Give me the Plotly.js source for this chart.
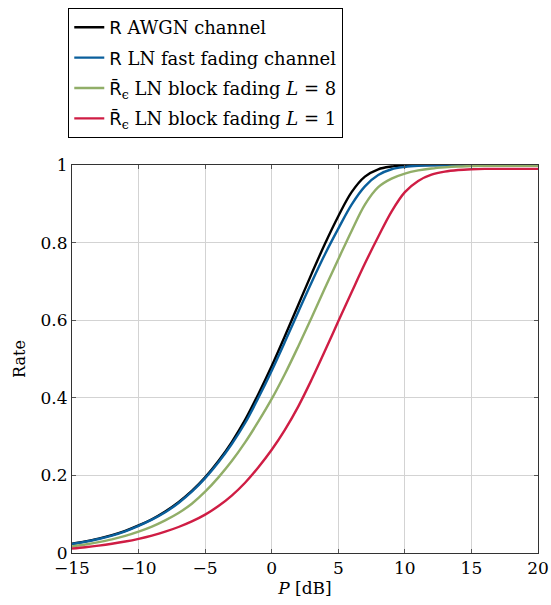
<!DOCTYPE html>
<html>
<head>
<meta charset="utf-8">
<script src="https://cdn.plot.ly/plotly-3.0.1.min.js"></script>
<style>
html,body{margin:0;padding:0;background:#fff;}
#chart{width:551px;height:605px;}
</style>
</head>
<body>
<div id="chart"></div>
<script>
// Power in dB
const powerDb = [-15,-14,-13,-12,-11,-10,-9,-8,-7,-6,-5,-4,-3,-2,-1,0,1,2,3,4,5,6,7,8,9,10,11,12,13,14,15,16,17,18,19,20];

// R, AWGN channel
const rateAwgn = [0.024,0.030,0.037,0.046,0.057,0.071,0.087,0.107,0.131,0.160,0.195,0.237,0.286,0.343,0.410,0.482,0.560,0.640,0.720,0.797,0.868,0.930,0.970,0.989,0.996,0.999,1.0,1.0,1.0,1.0,1.0,1.0,1.0,1.0,1.0,1.0];

// R, LN fast fading channel
const rateFast = [0.023,0.029,0.036,0.045,0.056,0.070,0.086,0.105,0.129,0.158,0.193,0.234,0.281,0.335,0.400,0.470,0.545,0.622,0.698,0.770,0.836,0.898,0.945,0.974,0.989,0.995,0.998,0.9995,1.0,1.0,1.0,1.0,1.0,1.0,1.0,1.0];

// R̄_ε, LN block fading L = 8
const rateBlock8 = [0.017,0.022,0.028,0.035,0.044,0.055,0.068,0.084,0.103,0.127,0.158,0.195,0.237,0.285,0.339,0.397,0.462,0.533,0.607,0.683,0.757,0.830,0.898,0.943,0.965,0.978,0.986,0.991,0.994,0.996,0.997,0.998,0.998,0.998,0.998,0.998];

// R̄_ε, LN block fading L = 1
const rateBlock1 = [0.0114,0.0148,0.0189,0.0238,0.0296,0.0366,0.0450,0.0550,0.0670,0.0815,0.099,0.121,0.148,0.181,0.221,0.266,0.318,0.378,0.447,0.521,0.597,0.672,0.746,0.815,0.880,0.930,0.959,0.975,0.983,0.987,0.989,0.990,0.990,0.990,0.990,0.990];

const SERIF = "DejaVu Serif";
const SANS = "DejaVu Sans";

const seriesNames = [
  '<span style="font-family:' + SANS + '">R</span> AWGN channel',
  '<span style="font-family:' + SANS + '">R</span> LN fast fading channel',
  '<span style="font-family:' + SANS + '">R̄</span><sub>ϵ</sub> LN block fading <i>L</i> = 8',
  '<span style="font-family:' + SANS + '">R̄</span><sub>ϵ</sub> LN block fading <i>L</i> = 1'
];
const seriesColors = ['#000000', '#0a5f9c', '#91ae68', '#cf1d44'];
const seriesData = [rateAwgn, rateFast, rateBlock8, rateBlock1];

const traces = seriesData.map((ys, i) => ({
  x: powerDb,
  y: ys,
  type: 'scatter',
  mode: 'lines',
  name: seriesNames[i],
  legendgroup: 'g' + i,
  line: {color: seriesColors[i], width: 2.4, shape: 'spline', smoothing: 1}
}));

const axisCommon = {
  showline: true,
  linecolor: '#333333',
  linewidth: 1,
  mirror: 'ticks',
  ticks: 'inside',
  ticklen: 4,
  tickcolor: '#555555',
  showgrid: true,
  gridcolor: '#d3d3d3',
  gridwidth: 1,
  zeroline: false,
  automargin: false,
  tickangle: 0,
  tickfont: {family: SERIF, size: 17, color: '#000'}
};

const layout = {
  width: 551,
  height: 605,
  margin: {l: 72, r: 13, t: 165, b: 52, autoexpand: false},
  paper_bgcolor: '#fff',
  plot_bgcolor: '#fff',
  font: {family: SERIF, size: 17, color: '#000'},
  showlegend: true,
  legend: {
    x: -0.008, y: 1.4046, xanchor: 'left', yanchor: 'top',
    bordercolor: '#000', borderwidth: 1,
    bgcolor: '#fff',
    font: {family: SERIF, size: 18, color: '#000'},
    tracegroupgap: 4
  },
  xaxis: Object.assign({}, axisCommon, {
    range: [-15, 20],
    tickvals: [-15,-10,-5,0,5,10,15,20],
    title: {text: '<i>P</i> [dB]', font: {family: SERIF, size: 17, color: '#000'}, standoff: 4}
  }),
  yaxis: Object.assign({}, axisCommon, {
    range: [0, 1],
    tickvals: [0,0.2,0.4,0.6,0.8,1],
    ticktext: ['0','0.2','0.4','0.6','0.8','1'],
    title: {text: 'Rate', font: {family: SERIF, size: 16, color: '#000'}, standoff: 10}
  })
};

Plotly.newPlot('chart', traces, layout, {displayModeBar: false, staticPlot: true});
</script>
</body>
</html>
